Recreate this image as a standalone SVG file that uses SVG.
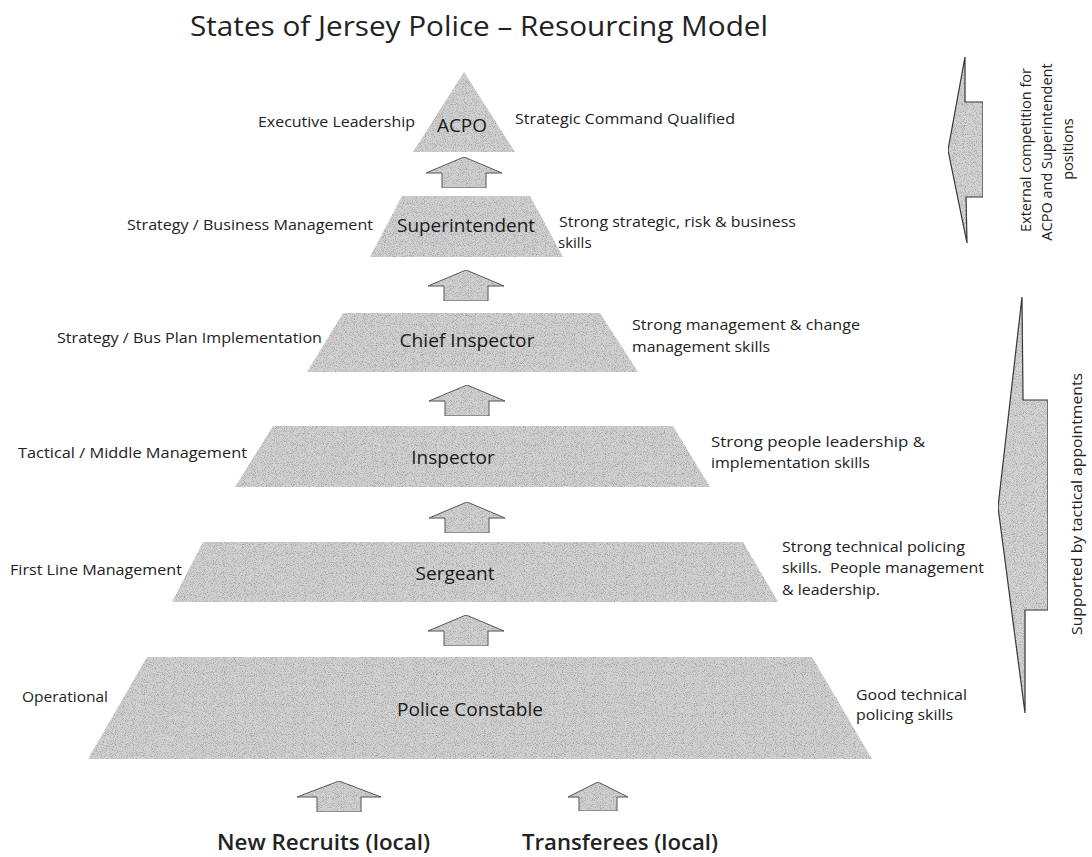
<svg xmlns="http://www.w3.org/2000/svg" width="1092" height="857" viewBox="0 0 1092 857">
<defs>
<filter id="grain" x="0" y="0" width="100%" height="100%" color-interpolation-filters="sRGB">
<feTurbulence type="fractalNoise" baseFrequency="1.1" numOctaves="1" seed="7" result="n"/>
<feColorMatrix in="n" type="matrix" values="0 0 0 0 0.45  0 0 0 0 0.45  0 0 0 0 0.45  1.8 0 0 0 -0.85" result="dots"/>
<feComposite in="dots" in2="SourceGraphic" operator="in" result="d2"/>
<feMerge><feMergeNode in="SourceGraphic"/><feMergeNode in="d2"/></feMerge>
</filter>
<path id="lvlArrow" d="M0,0 L38,16 L22,16 L22,31 L-22,31 L-22,16 L-38,16 Z"/>
<path id="botArrowL" d="M0,0 L42,16 L22,16 L22,31 L-22,31 L-22,16 L-42,16 Z"/>
<path id="botArrowR" d="M0,0 L30,15 L19,15 L19,29 L-19,29 L-19,15 L-30,15 Z"/>
</defs>
<style>
.tier{fill:#d2d2d2;filter:url(#grain);}
.arr{fill:#d2d2d2;stroke:#555;stroke-width:1;filter:url(#grain);}
.side{fill:#d4d4d4;stroke:#333;stroke-width:1.2;filter:url(#grain);}
.lbl{font-family:"Open Sans","Liberation Sans",sans-serif;font-size:15px;fill:#222;}
.node{font-family:"Open Sans","Liberation Sans",sans-serif;font-size:19px;fill:#1a1a1a;text-anchor:middle;}
.title{font-family:"Open Sans","Liberation Sans",sans-serif;font-size:27px;fill:#222;}
.src{font-family:"Open Sans","Liberation Sans",sans-serif;font-size:21px;font-weight:600;fill:#222;}
.rot{font-family:"Open Sans","Liberation Sans",sans-serif;font-size:14.5px;fill:#222;text-anchor:middle;}
</style>
<rect width="1092" height="857" fill="#ffffff"/>
<text class="title" x="190" y="36" textLength="578" lengthAdjust="spacingAndGlyphs">States of Jersey Police – Resourcing Model</text>

<g id="acpo">
<polygon class="tier" points="464,72 515,152 413,152"/>
<text class="node" x="462" y="132" font-size="20">ACPO</text>
<text class="lbl" x="258" y="127" textLength="157" lengthAdjust="spacingAndGlyphs">Executive Leadership</text>
<text class="lbl" x="515" y="124" textLength="220" lengthAdjust="spacingAndGlyphs">Strategic Command Qualified</text>
</g>

<g id="superintendent">
<polygon class="tier" points="402,196 530,196 563,257 370,257"/>
<text class="node" x="466" y="232" textLength="138" lengthAdjust="spacingAndGlyphs">Superintendent</text>
<text class="lbl" x="127" y="230" textLength="246" lengthAdjust="spacingAndGlyphs">Strategy / Business Management</text>
<text class="lbl" x="559" y="227" textLength="237" lengthAdjust="spacingAndGlyphs">Strong strategic, risk &amp; business</text>
<text class="lbl" x="558" y="248">skills</text>
</g>

<g id="chief-inspector">
<polygon class="tier" points="343,313 600,313 638,372 307,372"/>
<text class="node" x="467" y="347" textLength="135" lengthAdjust="spacingAndGlyphs">Chief Inspector</text>
<text class="lbl" x="57" y="343" textLength="265" lengthAdjust="spacingAndGlyphs">Strategy / Bus Plan Implementation</text>
<text class="lbl" x="632" y="330" textLength="228" lengthAdjust="spacingAndGlyphs">Strong management &amp; change</text>
<text class="lbl" x="632" y="352" textLength="138" lengthAdjust="spacingAndGlyphs">management skills</text>
</g>

<g id="inspector">
<polygon class="tier" points="273,426 673,426 710,487 235,487"/>
<text class="node" x="453" y="464">Inspector</text>
<text class="lbl" x="18" y="458" textLength="229" lengthAdjust="spacingAndGlyphs">Tactical / Middle Management</text>
<text class="lbl" x="711" y="447" textLength="214" lengthAdjust="spacingAndGlyphs">Strong people leadership &amp;</text>
<text class="lbl" x="711" y="468" textLength="159" lengthAdjust="spacingAndGlyphs">implementation skills</text>
</g>

<g id="sergeant">
<polygon class="tier" points="203,542 743,542 778,602 172,602"/>
<text class="node" x="455" y="580">Sergeant</text>
<text class="lbl" x="10" y="575" textLength="172" lengthAdjust="spacingAndGlyphs">First Line Management</text>
<text class="lbl" x="782" y="552" textLength="183" lengthAdjust="spacingAndGlyphs">Strong technical policing</text>
<text class="lbl" x="782" y="573" textLength="202" lengthAdjust="spacingAndGlyphs" style="white-space:pre">skills.  People management</text>
<text class="lbl" x="782" y="595" textLength="98" lengthAdjust="spacingAndGlyphs">&amp; leadership.</text>
</g>

<g id="police-constable">
<polygon class="tier" points="147,657 812,657 872,759 88,759"/>
<text class="node" x="470" y="716" textLength="146" lengthAdjust="spacingAndGlyphs">Police Constable</text>
<text class="lbl" x="22" y="702" textLength="86" lengthAdjust="spacingAndGlyphs">Operational</text>
<text class="lbl" x="856" y="700" textLength="111" lengthAdjust="spacingAndGlyphs">Good technical</text>
<text class="lbl" x="856" y="720" textLength="97" lengthAdjust="spacingAndGlyphs">policing skills</text>
</g>

<g id="new-recruits">
<use href="#botArrowL" class="arr" x="339" y="781"/>
<text class="src" x="217" y="850" textLength="213" lengthAdjust="spacingAndGlyphs">New Recruits (local)</text>
</g>

<g id="transferees">
<use href="#botArrowR" class="arr" x="598" y="782"/>
<text class="src" x="522" y="850" textLength="196" lengthAdjust="spacingAndGlyphs">Transferees (local)</text>
</g>

<g id="external-competition">
<polygon class="side" points="965,57 965,102 983,102 983,197 966,197 967,243 948,150"/>
<text class="rot" transform="translate(1031,150) rotate(-90)">External competition for</text>
<text class="rot" transform="translate(1052,152) rotate(-90)">ACPO and Superintendent</text>
<text class="rot" transform="translate(1073,149) rotate(-90)">positions</text>
</g>

<g id="tactical-appointments">
<polygon class="side" points="1022,297 1023,400 1048,400 1048,610 1025,610 1025,713 998,507"/>
<text class="rot" transform="translate(1082,504) rotate(-90)" textLength="262" lengthAdjust="spacingAndGlyphs">Supported by tactical appointments</text>
</g>

<g id="connectors">
<use href="#lvlArrow" class="arr" x="464" y="157"/>
<use href="#lvlArrow" class="arr" x="466" y="270"/>
<use href="#lvlArrow" class="arr" x="467" y="385"/>
<use href="#lvlArrow" class="arr" x="467" y="502"/>
<use href="#lvlArrow" class="arr" x="466" y="615"/>
</g>
</svg>
